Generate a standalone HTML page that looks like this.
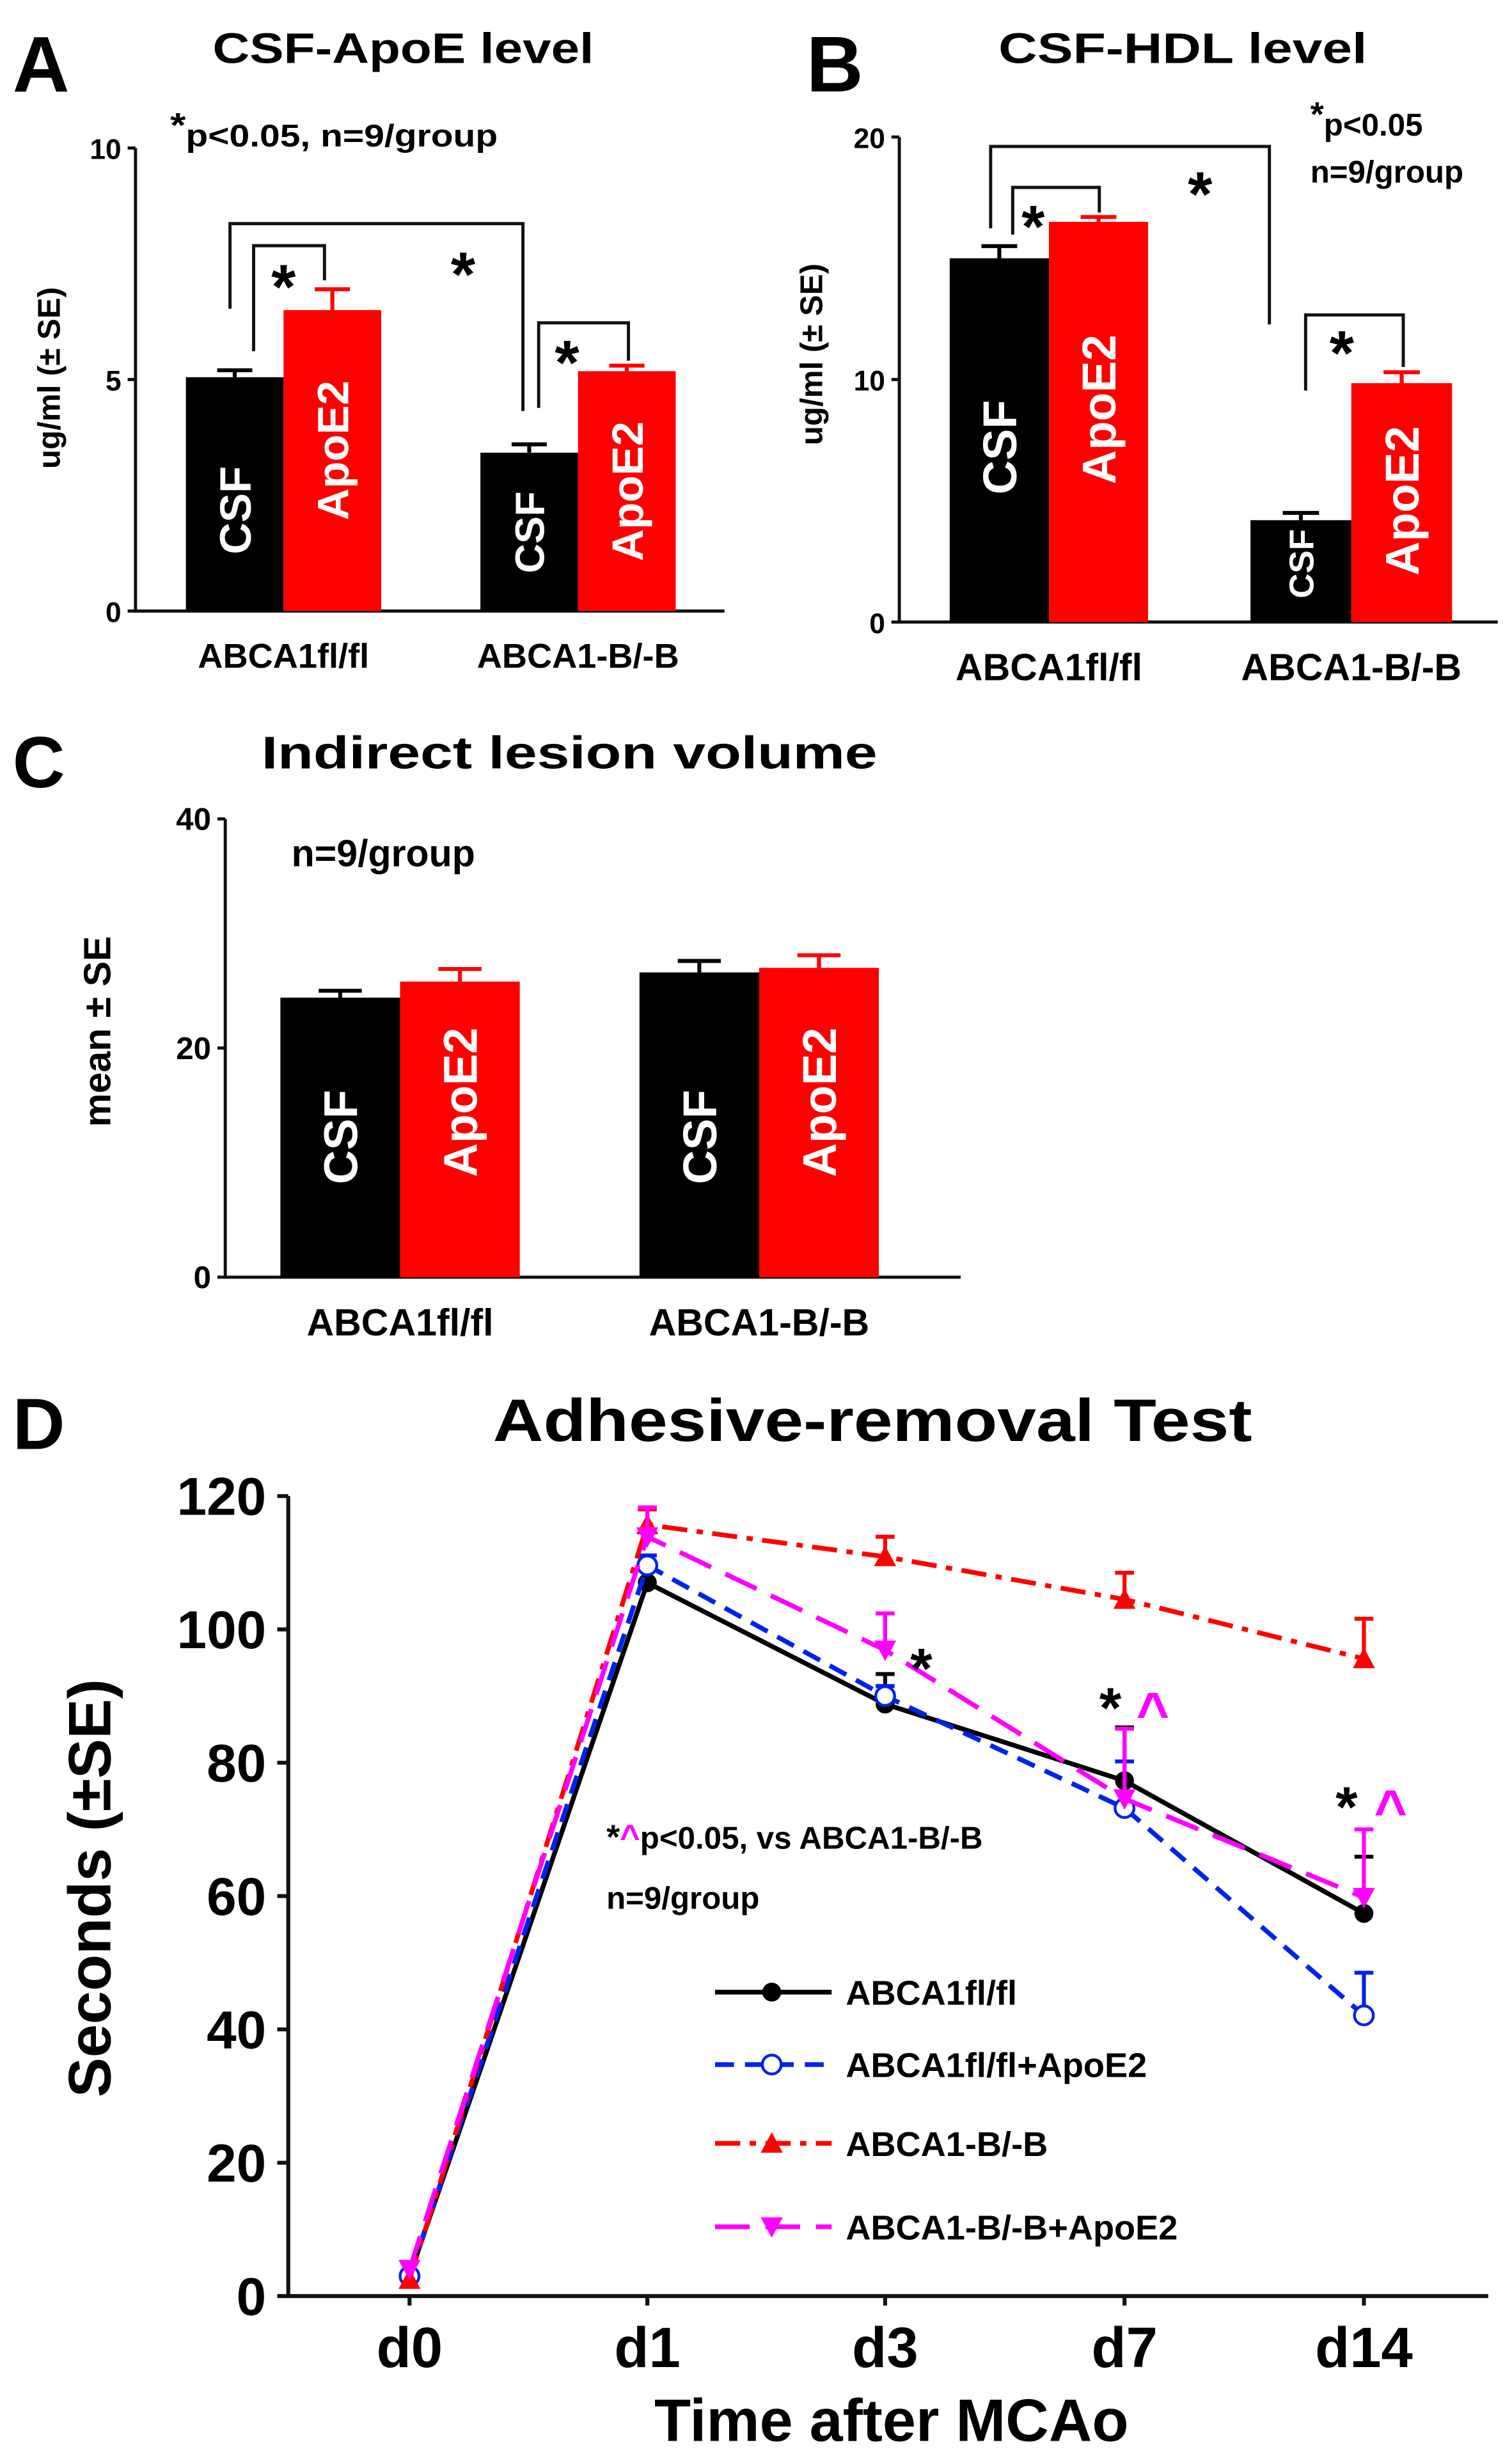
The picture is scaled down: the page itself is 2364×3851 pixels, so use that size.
<!DOCTYPE html>
<html><head><meta charset="utf-8"><style>
html,body{margin:0;padding:0;background:#fff;}
svg{display:block;}
text{font-family:"Liberation Sans",Arial,sans-serif;font-weight:bold;}
</style></head><body>
<svg id="fig" xmlns="http://www.w3.org/2000/svg" width="2364" height="3851" viewBox="0 0 960 1564">
<rect width="960" height="1564" fill="#fff"/>
<g id="pA">
<text x="8" y="58" font-size="50">A</text>
<text x="135" y="40" font-size="27" textLength="242" lengthAdjust="spacingAndGlyphs">CSF-ApoE level</text>
<text x="108" y="93" font-size="20" textLength="208" lengthAdjust="spacingAndGlyphs"><tspan font-size="22" dy="-6">*</tspan><tspan dy="6">p&lt;0.05, n=9/group</tspan></text>
<text transform="translate(38,240) rotate(-90)" text-anchor="middle" font-size="20">ug/ml (± SE)</text>
</g>
<g id="pB">
<text x="512" y="58" font-size="50">B</text>
<text x="634" y="40" font-size="27" textLength="234" lengthAdjust="spacingAndGlyphs">CSF-HDL level</text>
<text x="832" y="86" font-size="20"><tspan font-size="22" dy="-6">*</tspan><tspan dy="6">p&lt;0.05</tspan></text>
<text x="832" y="116" font-size="20">n=9/group</text>
<text transform="translate(522,225) rotate(-90)" text-anchor="middle" font-size="20">ug/ml (± SE)</text>
</g>
<g id="pC">
<text x="8" y="500" font-size="46">C</text>
<text x="166" y="488" font-size="29" textLength="391" lengthAdjust="spacingAndGlyphs">Indirect lesion volume</text>
<text x="185" y="550" font-size="24">n=9/group</text>
<text transform="translate(70,655) rotate(-90)" text-anchor="middle" font-size="24">mean ± SE</text>
</g>
<g id="pD">
<text x="8" y="920" font-size="46">D</text>
<text x="554" y="915" text-anchor="middle" font-size="38" textLength="482" lengthAdjust="spacingAndGlyphs">Adhesive-removal Test</text>
<text transform="translate(70,1199) rotate(-90)" text-anchor="middle" font-size="38">Seconds (±SE)</text>
<text x="566" y="1550" text-anchor="middle" font-size="38">Time after MCAo</text>
<text x="385" y="1174" font-size="20"><tspan font-size="22">*</tspan><tspan fill="#ff00ff" font-size="22">^</tspan>p&lt;0.05, vs ABCA1-B/-B</text>
<text x="385" y="1212" font-size="20">n=9/group</text>
</g>
</svg>
<script>
// ---- Panel A data ----
const aGroups = ["ABCA1fl/fl", "ABCA1-B/-B"];
const aCsf = [5.05, 3.42];
const aApo = [6.5, 5.18];
const aCsfErr = [0.15, 0.18];
const aApoErr = [0.45, 0.12];
const aTicks = [0, 5, 10];
// ---- Panel B data ----
const bGroups = ["ABCA1fl/fl", "ABCA1-B/-B"];
const bCsf = [15.0, 4.2];
const bApo = [16.5, 9.85];
const bCsfErr = [0.5, 0.3];
const bApoErr = [0.2, 0.45];
const bTicks = [0, 10, 20];
// ---- Panel C data ----
const cGroups = ["ABCA1fl/fl", "ABCA1-B/-B"];
const cCsf = [24.4, 26.6];
const cApo = [25.8, 27.0];
const cCsfErr = [0.6, 1.0];
const cApoErr = [1.1, 1.1];
const cTicks = [0, 20, 40];
// ---- Panel D data ----
const dDays = ["d0", "d1", "d3", "d7", "d14"];
const dTicks = [0, 20, 40, 60, 80, 100, 120];
const dBlack = [3, 107, 88.8, 77.3, 57.4];
const dBlackErr = [0, 2, 4.5, 8, 8.5];
const dBlue = [3, 109.6, 90, 73.2, 42.1];
const dBlueErr = [0, 1.5, 1.5, 7, 6.4];
const dRed = [2.5, 115.7, 110.9, 104.5, 95.6];
const dRedErr = [0, 2.3, 3, 4, 6];
const dMag = [4, 113.9, 96.9, 74.6, 59.8];
const dMagErr = [0, 4.4, 5.5, 10.5, 10.2];

const NS = "http://www.w3.org/2000/svg";
const fig = document.getElementById('fig');
function mk(tag, attrs, parent, txt) {
  const e = document.createElementNS(NS, tag);
  for (const k in attrs) e.setAttribute(k, attrs[k]);
  if (txt !== undefined) e.textContent = txt;
  (parent || fig).appendChild(e);
  return e;
}

function barPanel(o) {
  const g = document.getElementById(o.id);
  const y = v => o.y0 - (v / o.vmax) * (o.y0 - o.yTop);
  const ax = mk('path', {d: `M${o.ax},${o.yTop} V${o.y0} H${o.axEnd}`, fill: 'none', stroke: '#111', 'stroke-width': 2}, g);
  
  
  o.ticks.forEach(t => {
    const tk = mk('line', {x1: o.ax - 5, x2: o.ax, y1: y(t), y2: y(t), stroke: '#111', 'stroke-width': 2}, g);
    
    
    const tl = mk('text', {x: o.ax - 9, y: y(t) + 7, 'text-anchor': 'end', 'font-size': o.tickFs, 'font-weight': 'normal'}, g, String(t));
    
    
  });
  o.groups.forEach((name, i) => {
    const x0 = o.gx[i];
    const w = o.bw[i];
    [[o.csf[i], o.csfErr[i], '#000', 'CSF', o.csfLab[i]], [o.apo[i], o.apoErr[i], '#ff0000', 'ApoE2', o.apoLab[i]]].forEach((b, j) => {
      const bx = x0 + j * w;
      const r = mk('rect', {x: bx, y: y(b[0]), width: w, height: o.y0 - y(b[0]), fill: b[2]}, g);
      
      
      const cx = bx + w / 2;
      const e = mk('path', {d: `M${cx},${y(b[0])} V${y(b[0] + b[1])} M${cx - w * 0.18},${y(b[0] + b[1])} H${cx + w * 0.18}`, stroke: b[2], 'stroke-width': 2.5, fill: 'none'}, g);
      
      
      const lt = mk('text', {transform: `translate(${cx + b[4][1] * 0.36},${b[4][0]}) rotate(-90)`, 'text-anchor': 'middle', 'font-size': b[4][1], fill: '#fff'}, g, b[3]);
      
      
    });
    const xl = mk('text', {x: x0 + w, y: o.xlY, 'text-anchor': 'middle', 'font-size': o.xlFs}, g, name);
    
    
  });
}

barPanel({id: 'pA', ax: 86, axEnd: 460, y0: 388, yTop: 94, vmax: 10, ticks: aTicks, tickFs: 18,
  groups: aGroups, csf: aCsf, apo: aApo, csfErr: aCsfErr, apoErr: aApoErr,
  gx: [118, 305], bw: [62, 62], csfLab: [[324, 28], [338, 26]], apoLab: [[286, 28], [312, 28]], xlY: 424, xlFs: 22});
barPanel({id: 'pB', ax: 571, axEnd: 951, y0: 395, yTop: 87, vmax: 20, ticks: bTicks, tickFs: 18,
  groups: bGroups, csf: bCsf, apo: bApo, csfErr: bCsfErr, apoErr: bApoErr,
  gx: [603, 794], bw: [63, 64], csfLab: [[284, 30], [358, 22]], apoLab: [[260, 30], [318, 30]], xlY: 432, xlFs: 24});
barPanel({id: 'pC', ax: 143, axEnd: 610, y0: 811, yTop: 520, vmax: 40, ticks: cTicks, tickFs: 20,
  groups: cGroups, csf: cCsf, apo: cApo, csfErr: cCsfErr, apoErr: cApoErr,
  gx: [178, 406], bw: [76, 76], csfLab: [[722, 30], [722, 30]], apoLab: [[700, 30], [700, 30]], xlY: 848, xlFs: 24});

// significance brackets (panel A / B)
function bracket(id, x1, x2, yt, l1, l2) {
  const p = mk('path', {d: `M${x1},${l1} V${yt} H${x2} V${l2}`, fill: 'none', stroke: '#111', 'stroke-width': 2}, document.getElementById(id));
  
  
}
function star(id, x, yy, fs) {
  const s = mk('text', {x: x, y: yy, 'text-anchor': 'middle', 'font-size': fs}, document.getElementById(id), '*');
  
  
}
bracket('pA', 146, 332, 142, 196, 261); bracket('pA', 161, 206, 156, 223, 178); bracket('pA', 342, 399, 205, 259, 229);
star('pA', 180, 196, 40); star('pA', 294, 188, 40); star('pA', 360, 244, 40);
bracket('pB', 629, 806, 93, 145, 206); bracket('pB', 643, 698, 119, 149, 135); bracket('pB', 829, 891, 200, 248, 233);
star('pB', 656, 157, 38); star('pB', 762, 137, 40); star('pB', 852, 238, 40);

// ---- Panel D line chart ----
(function () {
  const g = document.getElementById('pD');
  const X0 = 183, XE = 945, Y0 = 1458, YT = 950;
  const dx = [260, 411, 562, 714, 866];
  const xs = i => dx[0] + (dx[4] - dx[0]) * (i / (dDays.length - 1)) * 0 + dx[i];
  const y = v => Y0 - (v / 120) * (Y0 - YT);
  const ax = mk('path', {d: `M${X0},${YT} V${Y0} H${XE}`, fill: 'none', stroke: '#111', 'stroke-width': 2.5}, g);
  
  
  dTicks.forEach(t => {
    const tk = mk('line', {x1: X0 - 7, x2: X0, y1: y(t), y2: y(t), stroke: '#111', 'stroke-width': 2.5}, g);
    
    
    const tl = mk('text', {x: X0 - 14, y: y(t) + 12, 'text-anchor': 'end', 'font-size': 34}, g, String(t));
    
    
  });
  dDays.forEach((d, i) => {
    const tk = mk('line', {x1: dx[i], x2: dx[i], y1: Y0, y2: Y0 + 6, stroke: '#111', 'stroke-width': 2.5}, g);
    
    
    const tl = mk('text', {x: dx[i], y: Y0 + 45, 'text-anchor': 'middle', 'font-size': 36}, g, d);
    
    
  });
  const series = [
    {n: 'ABCA1fl/fl', v: dBlack, e: dBlackErr, c: '#000', dash: 'none', m: 'dot'},
    {n: 'ABCA1fl/fl+ApoE2', v: dBlue, e: dBlueErr, c: '#0022ee', dash: '12,7', m: 'circle'},
    {n: 'ABCA1-B/-B', v: dRed, e: dRedErr, c: '#ff0000', dash: '16,6,4,6', m: 'tri'},
    {n: 'ABCA1-B/-B+ApoE2', v: dMag, e: dMagErr, c: '#ff00ff', dash: '22,10', m: 'itri'}
  ];
  function marker(type, cx, cy, c, parent) {
    let el;
    if (type === 'dot') el = mk('circle', {cx: cx, cy: cy, r: 6, fill: c}, parent);
    else if (type === 'circle') el = mk('circle', {cx: cx, cy: cy, r: 6, fill: '#fff', stroke: c, 'stroke-width': 1.8}, parent);
    else if (type === 'tri') el = mk('path', {d: `M${cx},${cy - 7} L${cx + 7},${cy + 6} L${cx - 7},${cy + 6} Z`, fill: c}, parent);
    else el = mk('path', {d: `M${cx},${cy + 7} L${cx + 7},${cy - 6} L${cx - 7},${cy - 6} Z`, fill: c}, parent);
    
    
  }
  series.forEach((s, si) => {
    const sg = mk('g', {}, g);
    
    
    s.v.forEach((v, i) => {
      if (s.e[i] > 0) {
        const e = mk('path', {d: `M${dx[i]},${y(v)} V${y(v + s.e[i])} M${dx[i] - 6},${y(v + s.e[i])} H${dx[i] + 6}`, stroke: s.c, 'stroke-width': 2.5, fill: 'none'}, sg);
        
        
      }
    });
    const pts = s.v.map((v, i) => `${dx[i]},${y(v)}`).join(' ');
    const pl = mk('polyline', {points: pts, fill: 'none', stroke: s.c, 'stroke-width': 3, 'stroke-dasharray': s.dash}, sg);
    
    
    s.v.forEach((v, i) => marker(s.m, dx[i], y(v), s.c, sg));
    // legend
    const ly = [1265, 1311, 1361, 1414][si];
    const lg = mk('g', {}, g);
    
    
    const ll = mk('line', {x1: 454, x2: 528, y1: ly, y2: ly, stroke: s.c, 'stroke-width': 3, 'stroke-dasharray': s.dash}, lg);
    
    
    marker(s.m, 490, ly, s.c, lg);
    const lt = mk('text', {x: 537, y: ly + 8, 'font-size': 22}, lg, s.n);
    
    
  });
  const ann = [['*', 585, 1072, '#000'], ['*', 705, 1097, '#000'], ['^', 732, 1100, '#ff00ff'], ['*', 855, 1160, '#000'], ['^', 883, 1162, '#ff00ff']];
  ann.forEach(a => {
    const t = mk('text', {x: a[1], y: a[2], 'text-anchor': 'middle', 'font-size': 36, fill: a[3]}, g, a[0]);
    
    
  });
})();
</script>
</body></html>
